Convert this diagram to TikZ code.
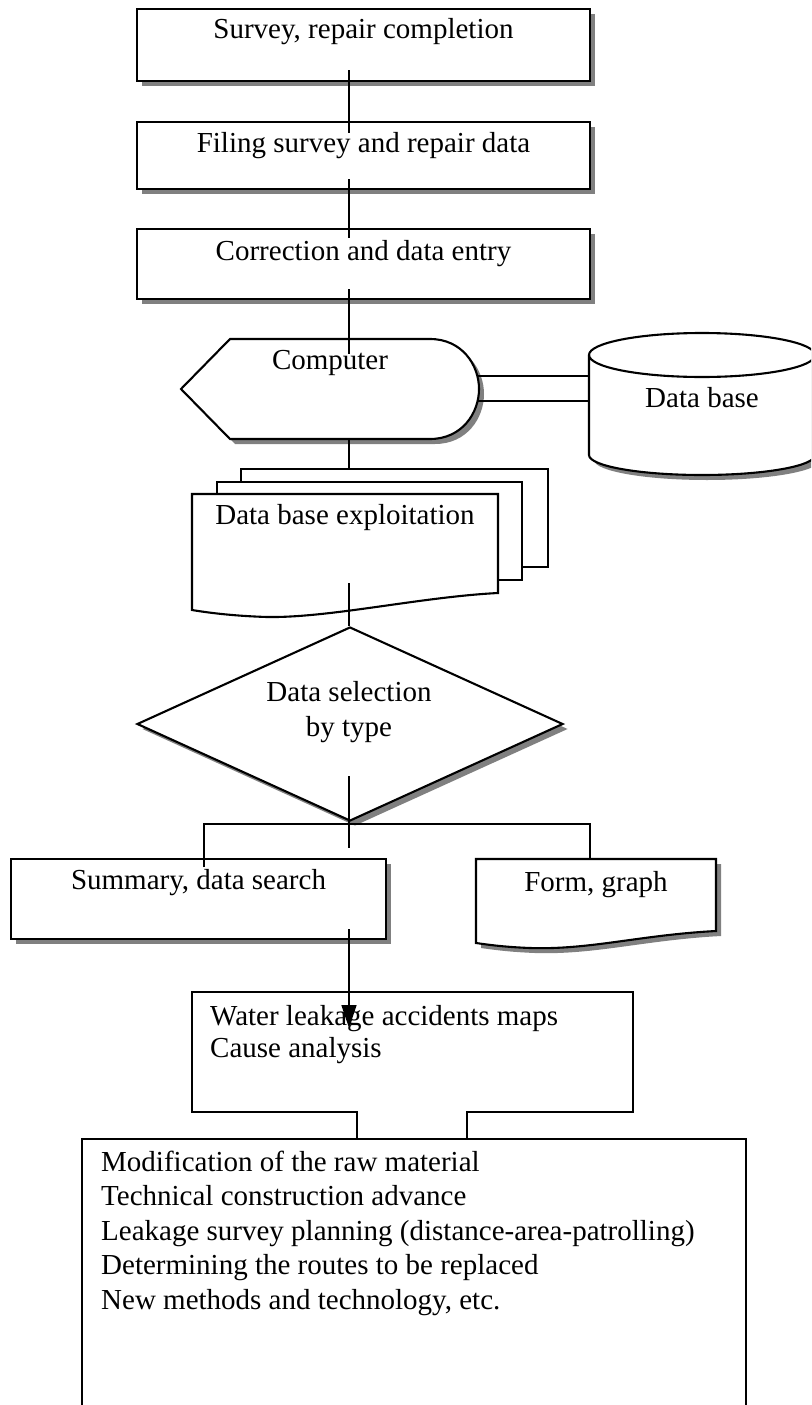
\documentclass[tikz,border=0pt]{standalone}
\usepackage{fontspec}
\setmainfont{Liberation Serif}
\usetikzlibrary{shapes.geometric,shadows,arrows.meta,calc}
\begin{document}
\begin{tikzpicture}[x=1pt,y=-1pt,
  line join=miter,
  outl/.style={draw=black, line width=2.1pt, fill=white},
  shad/.style={drop shadow={shadow xshift=5pt, shadow yshift=-5pt, fill=black!50, opacity=1}},
  conn/.style={draw=black, line width=1.6pt},
  txt/.style={font=\fontsize{29}{35}\selectfont, inner sep=0pt},
  pbox/.style={outl, shad, txt, rectangle, anchor=north},
]
\useasboundingbox (0,0) rectangle (811,1405);
\fill[white] (0,0) rectangle (811,1405);
\clip (0,0) rectangle (811,1405);
\coordinate (axis) at (349,0);

% top boxes
\node[pbox, minimum width=453pt, text height=29.5pt, text depth=42.5pt] (b1) at (363.5,8) {Survey, repair completion};
\node[pbox, minimum width=453pt, text height=30.5pt, text depth=36.5pt] (b2) at (363.5,121) {Filing survey and repair data};
\node[pbox, minimum width=453pt, text height=31.5pt, text depth=38.5pt] (b3) at (363.5,228) {Correction and data entry};

% computer (display symbol)
\path[outl, shad] (181,389) -- (230,339) -- (430,339) .. controls (462,339) and (479,365) .. (479,389)
  .. controls (479,413) and (462,439) .. (430,439) -- (230,439) -- cycle;
\node[txt, minimum width=298pt, text height=30.5pt, text depth=69.5pt, anchor=north] (comp) at (330,339) {Computer};

% data base cylinder
\path[outl, shad] (589,355) -- (589,455) arc[start angle=180, end angle=0, x radius=113, y radius=20]
  -- (815,355) arc[start angle=0, end angle=-180, x radius=113, y radius=22] -- cycle;
\draw[outl, fill=none] (589,355) arc[start angle=180, end angle=0, x radius=113, y radius=22];
\node[txt, minimum width=226pt, text height=74.5pt, text depth=67.5pt, anchor=north] (db) at (702,333) {Data base};

% document stack
\path[outl] (241,469) rectangle (548,567);
\path[outl] (217,482) rectangle (522,580);
\path[outl] (192,494) -- (498,494) -- (498,593) .. controls (420,597) and (330,618) .. (267,617)
  .. controls (235,616) and (210,613) .. (192,610) -- cycle;
\node[txt, minimum width=306pt, text height=30.5pt, text depth=92.5pt, anchor=north] (dbx) at (345,494) {Data base exploitation};

% decision
\node[diamond, outl, shad, minimum width=426pt, minimum height=194pt, inner sep=0pt] (sel) at (350,724) {};
\node[txt, align=center] (selt) at (349,712.5) {Data selection\\by type};

% summary box
\node[pbox, minimum width=375pt, text height=30.5pt, text depth=49.5pt] (sum) at (198.5,858) {Summary, data search};

% form, graph document
\path[outl, shad] (476,859) -- (716,859) -- (716,931) .. controls (640,935) and (590,950) .. (530,948)
  .. controls (505,947) and (490,945) .. (476,943) -- cycle;
\node[txt, minimum width=240pt, text height=32.5pt, text depth=56.5pt, anchor=north] (form) at (596,859) {Form, graph};

% water leakage box
\node[minimum width=441pt, minimum height=120pt, inner sep=0pt, anchor=north] (wbox) at (412.5,992) {};
\draw[outl, fill=none] (357,1139) -- (357,1112) -- (192,1112) -- (192,992) -- (633,992) -- (633,1112) -- (467,1112) -- (467,1139);
\node[txt, font=\fontsize{29}{32}\selectfont, align=left, anchor=north west] (wtxt) at (210,1004.7) {Water leakage accidents maps\\Cause analysis};

% big box
\node[minimum width=664pt, minimum height=266pt, inner sep=0pt, anchor=north west] (big) at (82,1139) {};
\draw[outl, fill=none] (big.south west) -- (big.north west) -- (big.north east) -- (big.south east);
\node[txt, font=\fontsize{29}{34.5}\selectfont, align=left, anchor=north west] (bigt) at (101,1150.7) {Modification of the raw material\\Technical construction advance\\Leakage survey planning (distance-area-patrolling)\\Determining the routes to be replaced\\New methods and technology, etc.};

% connectors
\draw[conn] ($(b1.south -| axis)+(0,-12)$) -- ($(b2.north -| axis)+(0,12)$);
\draw[conn] ($(b2.south -| axis)+(0,-11)$) -- ($(b3.north -| axis)+(0,10)$);
\draw[conn] ($(b3.south -| axis)+(0,-11)$) -- ($(comp.north -| axis)+(0,15)$);
\draw[conn] ($(comp.east)+(-2,-13)$) coordinate (c1) -- (c1 -| db.west);
\draw[conn] ($(comp.east)+(-2,12)$) coordinate (c2) -- (c2 -| db.west);
\draw[conn] (comp.south -| axis) -- ($(dbx.north -| axis)+(0,-25)$);
\draw[conn] ($(dbx.south -| axis)+(0,-34)$) -- (sel.north -| axis);
\draw[conn] ($(sel.south -| axis)+(0,-46)$) -- ($(sel.south -| axis)+(0,26)$);
\draw[conn] ($(sum.north west)+(194,9)$) |- ($(sel.south -| axis)+(0,2)$) -| ($(form.north)+(-6,0)$);
\draw[conn, -{Triangle[length=23pt,width=15pt]}] ($(sum.south -| axis)+(0,-11)$) -- ($(wbox.north -| axis)+(0,36)$);
\end{tikzpicture}
\end{document}
